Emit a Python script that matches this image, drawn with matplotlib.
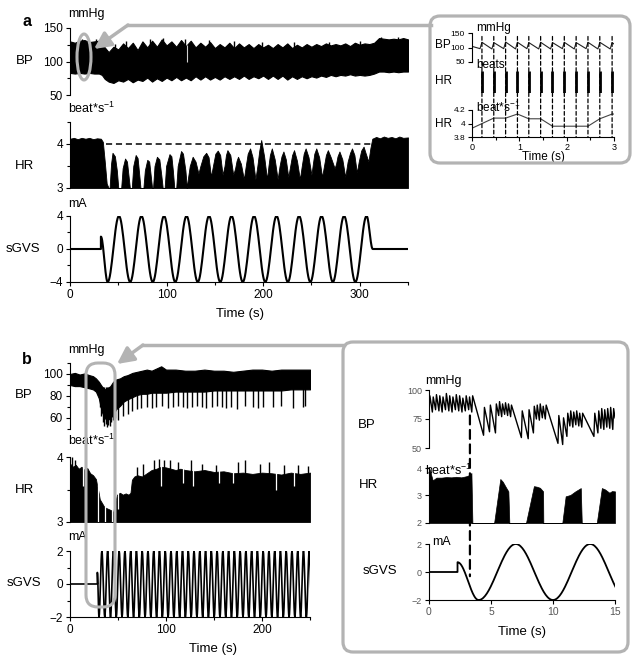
import numpy as np
import matplotlib
matplotlib.use('Agg')
import matplotlib.pyplot as plt
from matplotlib.patches import FancyBboxPatch, Ellipse, FancyArrowPatch, ConnectionPatch
from matplotlib.lines import Line2D

plt.rcParams['font.family'] = ['Liberation Sans', 'DejaVu Sans']
plt.rcParams['mathtext.default'] = 'regular'

# ---------------- panel a, main traces ----------------
bp_a_t = [0, 5, 10, 15, 20, 25, 30, 33, 36, 40, 45, 50, 55, 60, 65, 70, 75, 80, 85, 90,
          95, 100, 105, 110, 115, 120, 125, 130, 135, 140, 145, 150, 155, 160, 165, 170,
          175, 180, 185, 190, 195, 200, 205, 210, 215, 220, 225, 230, 235, 240, 245, 250,
          255, 260, 265, 270, 275, 280, 285, 290, 295, 300, 305, 310, 315, 320, 325, 330,
          335, 340, 345, 350]
bp_a_hi = [130, 128, 131, 132, 129, 130, 131, 127, 121, 114, 122, 118, 127, 120, 128, 117,
           130, 121, 131, 122, 133, 124, 130, 122, 132, 123, 131, 121, 128, 122, 129, 120,
           126, 121, 128, 120, 127, 121, 126, 120, 126, 121, 125, 120, 126, 121, 127, 120,
           125, 121, 126, 122, 126, 123, 127, 124, 126, 124, 127, 123, 128, 125, 127, 126,
           128, 135, 134, 133, 134, 133, 135, 133]
bp_a_lo = [83, 82, 83, 82, 83, 82, 82, 80, 74, 70, 68, 72, 70, 74, 69, 73, 71, 76, 70, 75,
           71, 76, 72, 77, 72, 76, 72, 78, 73, 78, 73, 77, 73, 78, 74, 78, 74, 79, 74, 78,
           75, 79, 74, 79, 74, 79, 73, 78, 74, 78, 75, 78, 76, 79, 77, 80, 78, 80, 79, 81,
           79, 80, 79, 80, 82, 85, 85, 84, 85, 84, 85, 85]
# single beats that stick out of the band
bp_a_spk_t = [12, 27, 47, 58, 83, 96, 119, 121, 144, 170, 199, 232, 268, 300, 322, 340]
bp_a_spk_v = [134, 133, 126, 130, 133, 135, 134, 100, 132, 130, 129, 129, 129, 130, 137, 137]

hr_a_t = [0, 4, 8, 12, 16, 20, 24, 28, 32, 34, 36, 38, 40,
          41, 42.5, 44, 46.5, 48.5, 50,
          53, 54.5, 57, 59, 60.5, 62,
          64, 65.5, 68, 70, 71.5, 73,
          76, 77.5, 80, 82, 83.5, 85,
          86, 87.5, 90, 92.5, 94.5, 96,
          98, 99.5, 103, 105, 106.5, 108,
          110, 111.5, 115, 117, 119.5, 121,
          122, 124, 127, 130, 133, 135, 138, 141, 143.5, 146, 148, 150.5, 153, 155.5, 158,
          160, 161.5, 163, 166, 169, 171, 172.5, 174, 177, 180, 182, 184, 186.5, 189, 192,
          194, 196, 198, 201, 204, 205.5, 207, 209, 212, 215, 217, 219, 221, 223.5, 226,
          228, 230, 232, 235, 238, 240, 242, 244, 247, 250, 251.5, 253, 255, 258, 261,
          263, 265, 267, 270, 274, 275.5, 277, 279, 282, 285, 287.5, 290, 292, 294.5, 297,
          299, 301.5, 304, 306, 309,
          311, 313, 317, 321, 325, 329, 333, 337, 341, 345, 350]
hr_a_v = [4.12, 4.14, 4.11, 4.14, 4.12, 4.14, 4.11, 4.13, 4.12, 4.05, 3.6, 3.1, 3.0,
          3.0, 3.55, 3.8, 3.72, 3.4, 3.0,
          3.0, 3.45, 3.67, 3.6, 3.3, 3.0,
          3.0, 3.5, 3.75, 3.68, 3.35, 3.0,
          3.0, 3.4, 3.64, 3.6, 3.3, 3.0,
          3.0, 3.5, 3.71, 3.65, 3.3, 3.0,
          3.0, 3.5, 3.77, 3.72, 3.4, 3.0,
          3.0, 3.5, 3.84, 3.78, 3.4, 3.0,
          3.2, 3.5, 3.71, 3.6, 3.33, 3.5, 3.72, 3.8, 3.7, 3.26, 3.5, 3.78, 3.85, 3.75, 3.3,
          3.5, 3.75, 3.86, 3.75, 3.3, 3.45, 3.62, 3.71, 3.55, 3.2, 3.5, 3.78, 3.9, 3.7, 3.2,
          3.5, 3.85, 4.09, 3.72, 3.2, 3.5, 3.75, 3.9, 3.65, 3.2, 3.5, 3.72, 3.83, 3.65, 3.25,
          3.5, 3.75, 3.86, 3.62, 3.2, 3.5, 3.78, 3.9, 3.7, 3.3, 3.55, 3.78, 3.9, 3.7, 3.25,
          3.5, 3.75, 3.86, 3.7, 3.45, 3.55, 3.72, 3.83, 3.65, 3.25, 3.6, 3.8, 3.9, 3.75, 3.35,
          3.6, 3.85, 3.94, 3.8, 3.6,
          3.9, 4.12, 4.16, 4.13, 4.17, 4.14, 4.16, 4.13, 4.17, 4.14, 4.15]
hr_a_ref = 4.0
hr_a_ref_span = [37, 312]

# sGVS turning points (mA)
gvs_a_t = [0, 32, 32, 39.0, 50.7, 62.3, 74.0, 85.7, 97.4, 109.0, 120.7, 132.3, 144.0,
           155.6, 167.3, 178.9, 190.6, 202.2, 213.9, 225.6, 237.2, 248.9, 260.5, 272.2,
           283.8, 295.5, 307.1, 313.5, 350]
gvs_a_v = [0, 0, 1.5, -4, 4, -4, 4, -4, 4, -4, 4, -4, 4, -4, 4, -4, 4, -4, 4, -4, 4, -4,
           4, -4, 4, -4, 4, 0, 0]

# ---------------- panel a, zoomed 3 s ----------------
ina_beat_t = [0.21, 0.46, 0.71, 0.96, 1.20, 1.45, 1.70, 1.95, 2.20, 2.45, 2.70, 2.96]
ina_sys = [118, 117, 119, 118, 117, 118, 117, 118, 117, 118, 118, 117]
ina_dia = [96, 95, 96, 95, 96, 95, 95, 96, 95, 96, 95, 95]
ina_hr_t = [0, 0.46, 0.71, 0.96, 1.20, 1.45, 1.70, 2.45, 2.70, 2.96, 3.0]
ina_hr_v = [3.93, 4.08, 4.08, 4.14, 4.07, 4.07, 3.96, 3.96, 4.07, 4.14, 4.14]

# ---------------- panel b, main traces ----------------
bp_b_t = [0, 5, 10, 15, 20, 24, 27, 30, 33, 36, 39, 42, 45, 48, 52, 56, 60, 65, 70, 75,
          80, 85, 90, 95, 100, 110, 120, 130, 140, 150, 160, 170, 180, 190, 200, 210, 220,
          230, 240, 250]
bp_b_hi = [100, 101, 99.5, 100.5, 99, 98, 96, 93, 89, 86, 87, 89, 93, 95, 96, 98, 99, 101,
           102, 103, 104, 103, 105, 107, 104, 104, 103, 103, 104, 103, 103, 102, 103, 104,
           104, 103, 104, 104, 104, 104]
bp_b_lo = [90, 89, 89, 88, 87, 86, 84, 78, 66, 60, 58, 60, 63, 68, 71, 75, 77, 79, 81, 82,
           82, 83, 83, 83, 83, 84, 84, 84, 84, 85, 85, 85, 85, 85, 85, 85, 85, 86, 86, 86]
bp_b_dip_t = [31, 32.5, 34, 35.5, 37, 38.5, 40, 41.5, 43, 44.5, 47, 50, 55.5, 60.5, 65,
              69.5, 73.5, 80, 85, 90, 96, 102, 107.6, 113, 117.5, 122, 127, 132, 137, 142,
              147.6, 152.8, 158, 163, 168, 173.6, 182, 191, 196, 201, 211.8, 220, 232.6,
              243, 245]
bp_b_dip_v = [70, 62, 56, 53, 55, 52, 54, 53, 56, 58, 60, 58, 62, 64, 66, 68, 69, 70, 69,
              70, 71, 69, 70, 71, 70, 69, 70, 71, 70, 69, 70, 71, 70, 69, 70, 68, 71, 70,
              69, 70, 70, 71, 69, 70, 71]

hr_b_t = [0, 3, 6, 9, 12, 15, 18, 21, 24, 27, 28.5, 30, 31, 33, 35, 37, 40, 43, 45, 47, 49,
          52, 55, 58, 61, 63, 64.5, 67, 70, 75, 80, 85, 90, 95, 100, 105, 110, 115, 120,
          130, 140, 150, 160, 170, 180, 190, 200, 210, 220, 230, 240, 250]
hr_b_v = [3.9, 3.85, 3.88, 3.82, 3.85, 3.8, 3.83, 3.75, 3.72, 3.66, 3.55, 3.44, 3.35, 3.3,
          3.25, 3.22, 3.2, 3.18, 3.15, 3.3, 3.42, 3.45, 3.42, 3.44, 3.42, 3.45, 3.65, 3.7,
          3.72, 3.7, 3.75, 3.8, 3.82, 3.85, 3.84, 3.82, 3.8, 3.82, 3.8, 3.78, 3.8, 3.77,
          3.78, 3.75, 3.76, 3.74, 3.76, 3.75, 3.73, 3.76, 3.74, 3.76]
hr_b_up_t = [2, 5, 70, 76, 88, 93, 98, 104, 112, 126, 137, 152, 175, 182, 198, 207, 223,
             238, 248]
hr_b_up_v = [4.0, 3.95, 3.85, 3.9, 3.95, 3.97, 3.95, 3.96, 3.92, 3.95, 3.9, 3.88, 3.93,
             3.95, 3.9, 3.92, 3.87, 3.88, 3.86]
hr_b_notch_t = [14, 29, 36, 44, 50, 95, 118, 128, 155, 170, 215, 233]
hr_b_notch_v = [3.55, 3.0, 3.0, 3.0, 3.2, 3.55, 3.6, 3.55, 3.6, 3.6, 3.5, 3.55]

gvs_b_t = [0, 28.5, 28.5, 30.2, 33.2, 36.2, 39.2, 42.2, 45.2, 48.2, 51.2, 54.2, 57.2, 60.2,
           63.2, 66.2, 69.2, 72.2, 75.2, 78.2, 81.2, 84.2, 87.2, 90.2, 93.2, 96.2, 99.2,
           102.2, 105.2, 108.2, 111.2, 114.2, 117.2, 120.2, 123.2, 126.2, 129.2, 132.2,
           135.2, 138.2, 141.2, 144.2, 147.2, 150.2, 153.2, 156.2, 159.2, 162.2, 165.2,
           168.2, 171.2, 174.2, 177.2, 180.2, 183.2, 186.2, 189.2, 192.2, 195.2, 198.2,
           201.2, 204.2, 207.2, 210.2, 213.2, 216.2, 219.2, 222.2, 225.2, 228.2, 231.2,
           234.2, 237.2, 240.2, 243.2, 246.2, 249.2, 252.2]
gvs_b_v = [0, 0, 0.7] + [-2, 2] * 37 + [-2]

# ---------------- panel b, zoomed 15 s ----------------
inb_beat_t = [0.0, 0.27, 0.53, 0.80, 1.06, 1.33, 1.60, 1.86, 2.13, 2.40, 2.66, 2.93, 3.20,
              3.45, 4.40, 4.88, 5.36, 5.62, 5.86, 6.10, 6.34, 6.58, 7.45, 8.00, 8.42, 8.66,
              8.90, 9.14, 9.38, 10.40, 10.78, 11.12, 11.36, 11.60, 11.84, 12.08, 12.32,
              13.30, 13.62, 13.86, 14.10, 14.34, 14.58, 14.82]
inb_dia = [82, 81, 83, 82, 81, 83, 82, 81, 83, 82, 81, 82, 83, 81, 61, 64, 63, 78, 77, 79,
           78, 77, 59, 58, 63, 75, 74, 76, 75, 54, 53, 60, 69, 68, 70, 69, 68, 60, 63, 67,
           66, 68, 67, 66]
inb_sys = [95, 94, 96, 95, 94, 97, 95, 94, 96, 95, 93, 95, 94, 95, 85, 87, 88, 90, 88, 89,
           88, 87, 82, 83, 86, 87, 88, 86, 87, 78, 76, 80, 82, 81, 82, 80, 80, 80, 82, 84,
           83, 84, 85, 84]
inb_hr_t = [0, 0.05, 0.3, 0.6, 1.0, 1.4, 1.8, 2.2, 2.6, 3.0, 3.3, 3.42, 3.5,
            5.25, 5.75, 5.95, 6.2, 6.4, 6.48,
            7.82, 8.46, 8.7, 8.95, 9.2, 9.22,
            10.75, 11.02, 11.4, 11.8, 12.24, 12.32,
            13.53, 13.94, 14.2, 14.55, 14.75, 15.0]
inb_hr_v = [4.0, 3.95, 3.55, 3.65, 3.65, 3.67, 3.66, 3.68, 3.66, 3.7, 3.75, 3.82, 2.0,
            2.0, 3.6, 3.5, 3.3, 3.15, 2.0,
            2.0, 3.34, 3.32, 3.28, 3.15, 2.0,
            2.0, 2.97, 3.02, 3.15, 3.27, 2.0,
            2.0, 3.27, 3.22, 3.1, 3.16, 3.15]
inb_gvs_t = [0, 2.3, 2.3, 4.0, 7.0, 10.0, 13.0, 16.0]
inb_gvs_v = [0, 0, 0.7, -2, 2, -2, 2, -2]
inb_mark_t = 3.3

W, H = 639, 664
GRAY = '#b3b3b3'
fig = plt.figure(figsize=(W / 100, H / 100), dpi=100)


def add_ax(x0, x1, ytop, ybot):
    ax = fig.add_axes([x0 / W, 1 - ybot / H, (x1 - x0) / W, (ybot - ytop) / H])
    ax.patch.set_alpha(0)
    return ax


def style(ax, bottom=False, size=8.5, color='black'):
    for s in ['top', 'right']:
        ax.spines[s].set_visible(False)
    ax.spines['bottom'].set_visible(bottom)
    ax.spines['left'].set_linewidth(0.8)
    ax.spines['bottom'].set_linewidth(0.8)
    ax.tick_params(which='both', direction='out', width=0.8, labelsize=size,
                   labelcolor=color, pad=2)
    ax.tick_params(which='major', length=3)
    ax.tick_params(which='minor', length=2)
    if not bottom:
        ax.tick_params(axis='x', which='both', bottom=False, labelbottom=False)


def txt(x, y, s, **kw):
    kw.setdefault('fontsize', 9)
    kw.setdefault('va', 'center')
    fig.text(x / W, 1 - y / H, s, **kw)


def inch(x, y):
    return (x / 100, (H - y) / 100)


def wave(tt, vv, n=16):
    xs, ys = [], []
    for i in range(len(tt) - 1):
        s = np.linspace(0, 1, n, endpoint=False)
        xs.append(tt[i] + (tt[i + 1] - tt[i]) * s)
        ys.append(vv[i] + (vv[i + 1] - vv[i]) * (1 - np.cos(np.pi * s)) / 2)
    xs.append([tt[-1]])
    ys.append([vv[-1]])
    return np.concatenate(xs), np.concatenate(ys)


def pulses(bt, dia, sysv, lead, rise):
    xs, ys = [], []
    for t, d, s in zip(bt, dia, sysv):
        xs += [t - lead, t - lead + rise]
        ys += [d, s]
    return xs, ys


# ================= panel a =================
ax = add_ax(70, 408, 28, 95)
style(ax)
ax.fill_between(bp_a_t, bp_a_lo, bp_a_hi, color='k', lw=0.8)
ax.vlines(bp_a_spk_t[:7], 110, bp_a_spk_v[:7], color='k', lw=1.0)
ax.vlines(bp_a_spk_t[7], bp_a_spk_v[7], 125, color='#d0d0d0', lw=0.8)
ax.vlines(bp_a_spk_t[8:], 110, bp_a_spk_v[8:], color='k', lw=1.0)
ax.set_xlim(0, 350)
ax.set_ylim(50, 150)
ax.set_yticks([50, 100, 150])
ax.set_yticks([75, 125], minor=True)

ax = add_ax(70, 408, 122, 188)
style(ax)
ax.fill_between(hr_a_t, 3, hr_a_v, color='k', lw=0.6)
ax.plot(hr_a_ref_span, [hr_a_ref, hr_a_ref], color='k', lw=1.1, dashes=(4, 2.5))
ax.set_xlim(0, 350)
ax.set_ylim(3, 4.5)
ax.set_yticks([3, 4])
ax.set_yticks([3.5, 4.5], minor=True)

ax = add_ax(70, 408, 216, 282)
style(ax, bottom=True)
gx, gy = wave(gvs_a_t, gvs_a_v)
ax.plot(gx, gy, color='k', lw=1.5)
ax.set_xlim(0, 350)
ax.set_ylim(-4, 4)
ax.set_yticks([-4, 0, 4])
ax.set_yticks([-2, 2], minor=True)
ax.set_xticks([0, 100, 200, 300])
ax.set_xticks([50, 150, 250, 350], minor=True)

txt(27, 22, 'a', fontsize=11.5, fontweight='bold', ha='center')
txt(68, 14, 'mmHg')
txt(25, 61, 'BP', ha='center', fontsize=9.5)
txt(68, 108, 'beat*s$^{-1}$')
txt(24, 166, 'HR', ha='center', fontsize=9.5)
txt(68, 204, 'mA')
txt(23, 249, 'sGVS', ha='center', fontsize=9.5)
txt(240, 314, 'Time (s)', ha='center', fontsize=9.5)

# ---- zoomed inset a ----
ia1 = add_ax(472, 614, 33, 62)
style(ia1, size=6)
px, py = pulses(ina_beat_t, ina_dia, ina_sys, 0.04, 0.04)
ia1.plot([0] + px + [3.0], [104] + py + [112], color='#222222', lw=0.8)
ia1.set_xlim(0, 3)
ia1.set_ylim(50, 150)
ia1.set_yticks([50, 100, 150])

ia2 = add_ax(472, 614, 71, 93)
ia2.axis('off')
ia2.vlines(ina_beat_t, 0, 1, color='k', lw=2.0)
ia2.set_xlim(0, 3)
ia2.set_ylim(0, 1)

ia3 = add_ax(472, 614, 110, 137)
style(ia3, bottom=True, size=6)
ia3.plot(ina_hr_t, ina_hr_v, color='#444444', lw=0.8)
ia3.set_xlim(0, 3)
ia3.set_ylim(3.8, 4.2)
ia3.set_yticks([3.8, 4, 4.2])
ia3.set_yticklabels(['3.8', '4', '4.2'])
ia3.set_xticks([0, 1, 2, 3])
ia3.set_xticks([0.5, 1.5, 2.5], minor=True)
ia3.tick_params(axis='x', labelsize=6.5, pad=1)

for bt in ina_beat_t:
    cp = ConnectionPatch(xyA=(bt, 138), coordsA=ia1.transData, xyB=(bt, 3.8),
                         coordsB=ia3.transData, color='k', lw=0.9, linestyle=(0, (3, 2)))
    fig.add_artist(cp)

txt(476, 28, 'mmHg', fontsize=8.5)
txt(443, 45, 'BP', ha='center', fontsize=8.5)
txt(476, 65, 'beats', fontsize=8.5)
txt(443, 81, 'HR', ha='center', fontsize=8.5)
txt(476, 107, 'beat*s$^{-1}$', fontsize=8.5)
txt(443, 124, 'HR', ha='center', fontsize=8.5)
txt(543, 157, 'Time (s)', ha='center', fontsize=8.5)

# ================= panel b =================
bx = add_ax(70, 310, 363, 429)
style(bx)
bx.fill_between(bp_b_t, bp_b_lo, bp_b_hi, color='k', lw=0.8)
bx.vlines(bp_b_dip_t, bp_b_dip_v, 88, color='k', lw=1.0)
bx.set_xlim(0, 250)
bx.set_ylim(50, 110)
bx.set_yticks([60, 80, 100])
bx.set_yticks([50, 70, 90, 110], minor=True)

bx = add_ax(70, 310, 457, 522)
style(bx)
bx.fill_between(hr_b_t, 3, hr_b_v, color='k', lw=0.6)
bx.vlines(hr_b_up_t, 3, hr_b_up_v, color='k', lw=1.0)
bx.vlines(hr_b_notch_t, hr_b_notch_v, 4, color='white', lw=0.9)
bx.set_xlim(0, 250)
bx.set_ylim(3, 4)
bx.set_yticks([3, 4])
bx.set_yticks([3.5], minor=True)

bx = add_ax(70, 310, 551, 617)
style(bx, bottom=True)
gx, gy = wave(gvs_b_t, gvs_b_v, n=8)
bx.plot(gx, gy, color='k', lw=1.2)
bx.set_xlim(0, 250)
bx.set_ylim(-2, 2)
bx.set_yticks([-2, 0, 2])
bx.set_yticks([-1, 1], minor=True)
bx.set_xticks([0, 100, 200])
bx.set_xticks([50, 150, 250], minor=True)

txt(27, 360, 'b', fontsize=11.5, fontweight='bold', ha='center')
txt(68, 350, 'mmHg')
txt(24, 395, 'BP', ha='center', fontsize=9.5)
txt(68, 440, 'beat*s$^{-1}$')
txt(24, 490, 'HR', ha='center', fontsize=9.5)
txt(68, 537, 'mA')
txt(24, 583, 'sGVS', ha='center', fontsize=9.5)
txt(213, 649, 'Time (s)', ha='center', fontsize=9.5)

# ---- zoomed inset b ----
ib1 = add_ax(429, 615, 390, 448)
style(ib1, size=6.5, color='#555555')
px, py = pulses(inb_beat_t, inb_dia, inb_sys, 0.0, 0.07)
ib1.plot(px + [15.0], py + [76], color='k', lw=1.0)
ib1.set_xlim(0, 15)
ib1.set_ylim(50, 100)
ib1.set_yticks([50, 75, 100])

ib2 = add_ax(429, 615, 468, 523)
style(ib2, size=6.5, color='#555555')
ib2.fill_between(inb_hr_t, 2, inb_hr_v, color='k', lw=0.5)
ib2.set_xlim(0, 15)
ib2.set_ylim(2, 4)
ib2.set_yticks([2, 3, 4])

ib3 = add_ax(429, 615, 544, 600)
style(ib3, bottom=True, size=6.5, color='#555555')
gx, gy = wave(inb_gvs_t, inb_gvs_v, n=40)
ib3.plot(gx, gy, color='k', lw=1.3)
ib3.set_xlim(0, 15)
ib3.set_ylim(-2, 2)
ib3.set_yticks([-2, 0, 2])
ib3.set_xticks([0, 5, 10, 15])
ib3.tick_params(axis='x', labelsize=7.5)

cp = ConnectionPatch(xyA=(inb_mark_t, 78), coordsA=ib1.transData, xyB=(inb_mark_t, -0.3),
                     coordsB=ib3.transData, color='k', lw=1.6, linestyle=(0, (4, 2.5)))
fig.add_artist(cp)

txt(425, 381, 'mmHg', fontsize=9)
txt(367, 425, 'BP', ha='center', fontsize=9.5)
txt(425, 470, 'beat*s$^{-1}$', fontsize=9)
txt(369, 485, 'HR', ha='center', fontsize=9.5)
txt(432, 542, 'mA', fontsize=9)
txt(380, 571, 'sGVS', ha='center', fontsize=9.5)
txt(522, 632, 'Time (s)', ha='center', fontsize=9.5)

# ================= grey call-outs =================
T = fig.dpi_scale_trans
for (x0, y0, x1, y1) in [(430, 16, 630, 163), (343, 342, 628, 652)]:
    box = FancyBboxPatch(inch(x0, y1), (x1 - x0) / 100, (y1 - y0) / 100,
                         boxstyle='round,pad=0,rounding_size=0.1', transform=T,
                         fill=False, edgecolor=GRAY, lw=2.3, zorder=10)
    fig.add_artist(box)

fig.add_artist(Ellipse(inch(84, 57), 0.14, 0.46, transform=T, fill=False,
                       edgecolor=GRAY, lw=2.2, zorder=10))
fig.add_artist(FancyBboxPatch(inch(86, 607), 0.29, 2.44,
                              boxstyle='round,pad=0,rounding_size=0.12', transform=T,
                              fill=False, edgecolor=GRAY, lw=2.2, zorder=10))

for (xa, ya, xb, yb, xt, yt) in [(431, 25, 128, 25, 94, 49), (344, 345, 143, 345, 117, 364)]:
    fig.add_artist(Line2D([inch(xa, ya)[0], inch(xb, yb)[0]],
                          [inch(xa, ya)[1], inch(xb, yb)[1]],
                          transform=T, color=GRAY, lw=2.5, zorder=10))
    fig.add_artist(FancyArrowPatch(inch(xb, yb), inch(xt, yt), transform=T,
                                   arrowstyle='-|>,head_length=0.5,head_width=0.25',
                                   mutation_scale=20, color=GRAY, lw=2.5,
                                   shrinkA=0, shrinkB=0, zorder=10))

fig.savefig('out.png', dpi=100)
